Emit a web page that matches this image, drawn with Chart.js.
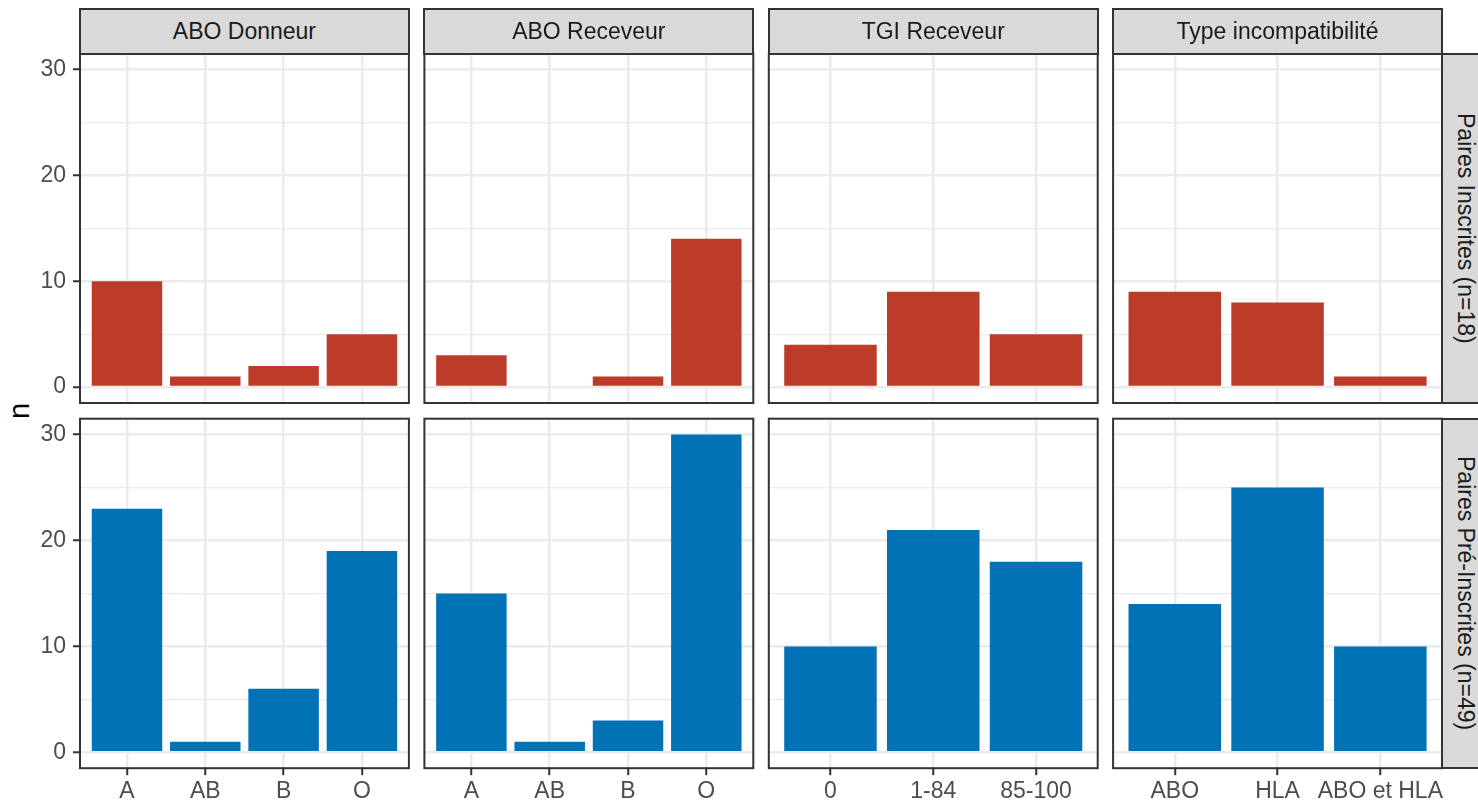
<!DOCTYPE html>
<html>
<head>
<meta charset="utf-8">
<script src="https://cdn.jsdelivr.net/npm/chart.js@4/dist/chart.umd.min.js"></script>
<style>
html,body{margin:0;padding:0;background:#fff;}
#wrap{position:relative;width:1478px;height:803px;overflow:hidden;font-family:'Liberation Sans',Arial,sans-serif;}
#wrap canvas{position:absolute;left:0;top:0;}
.strip{position:absolute;box-sizing:border-box;background:#D9D9D9;border:2px solid #333333;color:#1A1A1A;font-size:23px;display:flex;align-items:center;justify-content:center;white-space:nowrap;}
.strip.v span{writing-mode:vertical-rl;}
#ylab{position:absolute;left:18.5px;top:411px;transform:translate(-50%,-50%) rotate(-90deg);font-size:29px;color:#000;}
</style>
</head>
<body>
<div id="wrap"><div id="ylab">n</div></div>
<script>
// ---- data ----
const facetTitles = ['ABO Donneur', 'ABO Receveur', 'TGI Receveur', 'Type incompatibilité'];
const rowTitles = ['Paires Inscrites (n=18)', 'Paires Pré-Inscrites (n=49)'];

const catsAboDonneur = ['A', 'AB', 'B', 'O'];
const catsAboReceveur = ['A', 'AB', 'B', 'O'];
const catsTgi = ['0', '1-84', '85-100'];
const catsType = ['ABO', 'HLA', 'ABO et HLA'];

const inscritesAboDonneur = [10, 1, 2, 5];
const inscritesAboReceveur = [3, 0, 1, 14];
const inscritesTgi = [4, 9, 5];
const inscritesType = [9, 8, 1];

const preInscritesAboDonneur = [23, 1, 6, 19];
const preInscritesAboReceveur = [15, 1, 3, 30];
const preInscritesTgi = [10, 21, 18];
const preInscritesType = [14, 25, 10];

const yMajorTicks = [0, 10, 20, 30];
const yMinorTicks = [5, 15, 25];

const rowColors = ['#BC3C29', '#0072B5'];

// ---- layout ----
const W = 1478, H = 803;
const colLeft = [80, 424.4, 768.8, 1113.1];
const panelW = 328.9;
const rowTop = [53.5, 418.7];
const panelH = 349.5;
const YAXIS_W = 60, XAXIS_H = 40;
const FONT = "'Liberation Sans', Arial, sans-serif";
Chart.defaults.font.family = FONT;

const wrap = document.getElementById('wrap');

const borderPlugin = {
  id: 'panelBorder',
  afterDatasetsDraw(chart) {
    const a = chart.chartArea, ctx = chart.ctx;
    ctx.save();
    ctx.strokeStyle = '#333333';
    ctx.lineWidth = 2;
    ctx.strokeRect(a.left, a.top, a.right - a.left, a.bottom - a.top);
    ctx.restore();
  }
};

function isMajor(ctx) {
  return ctx.tick && yMajorTicks.includes(ctx.tick.value);
}

function makePanel(r, c, cats, vals) {
  const cv = document.createElement('canvas');
  cv.width = W; cv.height = H;
  wrap.appendChild(cv);
  const L = colLeft[c], R = L + panelW, T = rowTop[r], B = T + panelH;
  const showY = c === 0, showX = r === 1;
  new Chart(cv, {
    type: 'bar',
    data: {
      datasets: [{
        data: cats.map((k, i) => ({ x: i + 1, y: vals[i] })),
        backgroundColor: rowColors[r],
        borderWidth: 0,
        barPercentage: 0.9,
        categoryPercentage: 1.0
      }]
    },
    options: {
      responsive: false,
      animation: false,
      devicePixelRatio: 1,
      events: [],
      layout: { padding: {
        left: showY ? L - YAXIS_W : L,
        right: W - R,
        top: T,
        bottom: showX ? H - B - XAXIS_H : H - B
      } },
      plugins: { legend: { display: false }, tooltip: { enabled: false } },
      scales: {
        x: {
          type: 'linear',
          min: 0.4,
          max: cats.length + 0.6,
          offset: false,
          afterBuildTicks: s => { s.ticks = cats.map((k, i) => ({ value: i + 1 })); },
          afterFit: s => { s.height = showX ? XAXIS_H : 0; },
          grid: { offset: false, color: '#EBEBEB', lineWidth: 2.5, drawTicks: showX,
                  tickLength: 7, tickColor: '#333333', tickWidth: 2 },
          border: { display: false },
          ticks: { display: showX, autoSkip: false, maxRotation: 0, minRotation: 0, padding: 3,
                   color: '#4D4D4D', font: { size: 23, family: FONT },
                   callback: v => cats[Math.round(v) - 1] }
        },
        y: {
          type: 'linear',
          min: -1.5,
          max: 31.5,
          afterBuildTicks: s => { s.ticks = yMajorTicks.concat(yMinorTicks).sort((a, b) => a - b).map(v => ({ value: v })); },
          afterFit: s => { s.width = showY ? YAXIS_W : 0; },
          grid: { color: '#EBEBEB', lineWidth: ctx => isMajor(ctx) ? 2.5 : 1.3, drawTicks: showY,
                  tickLength: 7, tickColor: ctx => isMajor(ctx) ? '#333333' : 'rgba(0,0,0,0)', tickWidth: 2 },
          border: { display: false },
          ticks: { display: showY, padding: 7, color: '#4D4D4D', font: { size: 23, family: FONT },
                   callback: v => yMajorTicks.includes(v) ? String(v) : '' }
        }
      }
    },
    plugins: [borderPlugin]
  });
}

const panels = [
  [[catsAboDonneur, inscritesAboDonneur], [catsAboReceveur, inscritesAboReceveur], [catsTgi, inscritesTgi], [catsType, inscritesType]],
  [[catsAboDonneur, preInscritesAboDonneur], [catsAboReceveur, preInscritesAboReceveur], [catsTgi, preInscritesTgi], [catsType, preInscritesType]]
];
panels.forEach((row, r) => row.forEach((p, c) => makePanel(r, c, p[0], p[1])));

// strips
facetTitles.forEach((t, c) => {
  const d = document.createElement('div');
  d.className = 'strip';
  d.style.left = (colLeft[c] - 1) + 'px';
  d.style.top = '8px';
  d.style.width = (panelW + 2) + 'px';
  d.style.height = (rowTop[0] + 1 - 8) + 'px';
  d.textContent = t;
  wrap.appendChild(d);
});
rowTitles.forEach((t, r) => {
  const d = document.createElement('div');
  d.className = 'strip v';
  d.style.left = (colLeft[3] + panelW - 1) + 'px';
  d.style.top = (rowTop[r] - 1) + 'px';
  d.style.width = '49px';
  d.style.height = (panelH + 2) + 'px';
  const s = document.createElement('span');
  s.textContent = t;
  d.appendChild(s);
  wrap.appendChild(d);
});
</script>
</body>
</html>
